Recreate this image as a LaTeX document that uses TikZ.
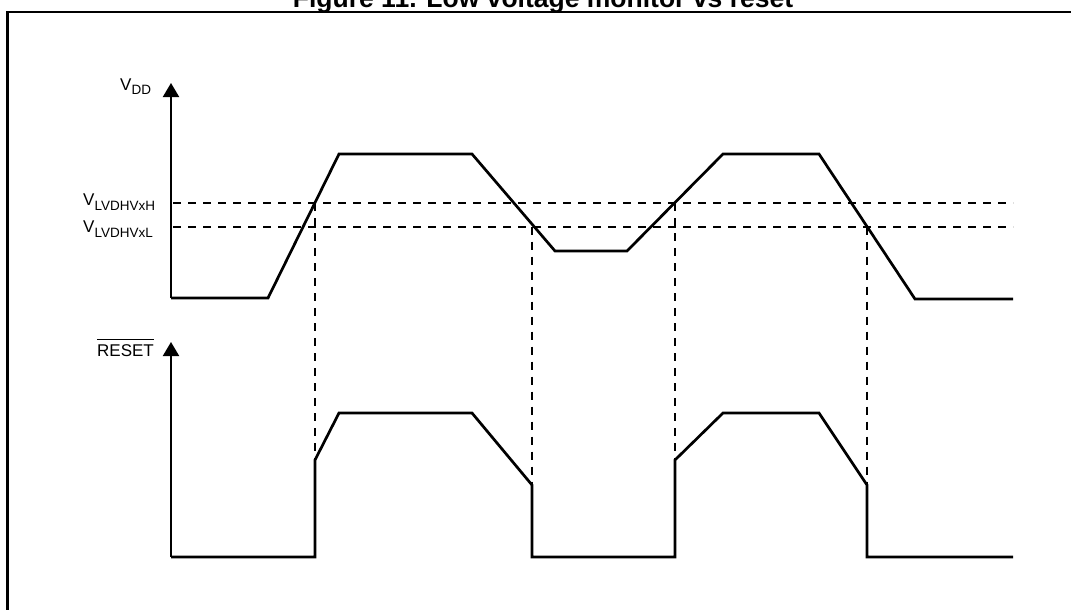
\documentclass[tikz,border=0pt]{standalone}
\usepackage{fontspec}
\setmainfont{Liberation Sans}
\usetikzlibrary{arrows.meta}
\newcommand\lbl{\fontsize{17}{20}\selectfont}
\newcommand\lsub[1]{\raisebox{-5pt}{\fontsize{13.5}{14}\selectfont #1}}
\newcommand\ovl[1]{\leavevmode\vbox{\hrule height 1pt\kern 4.5pt\hbox{#1}}}
\tikzset{
  wave/.style={line width=2.7pt,line join=miter},
  axis/.style={-{Triangle[length=14pt,width=16pt]},line width=2pt},
  thr/.style={line width=1.8pt,dash pattern=on 8pt off 7pt},
  frame/.style={line width=2.2pt}
}

\begin{document}
\begin{tikzpicture}[x=1pt,y=-1pt,every node/.style={inner sep=0pt,font=\lbl}]
  \useasboundingbox (0,0) rectangle (1071,610);
  % figure frame and title (cut by the page edge)
  \draw[frame] (7.5,640) -- (7.5,12) -- (1090,12);
  \node[anchor=base,font=\fontsize{26.5}{30}\selectfont\bfseries] (title) at (543,7.5)
        {Figure 11. Low voltage monitor vs reset};
  % axes
  \coordinate (o1) at (171,298);
  \coordinate (o2) at (171,557);
  \draw[axis] (o1) -- (171,83);
  \draw[axis] (o2) -- (171,342);
  \node[anchor=base west] (vdd) at (120,90) {V\lsub{DD}};
  \node[anchor=base west] (rst) at (97,356) {\ovl{RESET}};
  % threshold levels
  \node[anchor=base west] (vh) at (83,205) {V\lsub{LVDHVxH}};
  \node[anchor=base west] (vl) at (83,232.5) {V\lsub{LVDHVxL}};
  \draw[thr] (173,203.3) -- (1013,203.3);
  \draw[thr] (173,226.7) -- (1013,226.7);
  % supply voltage
  \draw[wave] (o1) -- (268,298) -- (339,154) -- (472,154) -- (555,251) -- (627,251)
              -- (723,154) -- (819,154) -- (915,299) -- (1013,299);
  % reset output
  \draw[wave] (o2) -- (315,557) -- (315,460) -- (339,413) -- (472,413) -- (532,485)
              -- (532,557) -- (675,557) -- (675,460) -- (723,413) -- (819,413)
              -- (867,485) -- (867,557) -- (1013,557);
  % crossings down to the reset edges
  \coordinate (c1) at (315,203.3);  \coordinate (e1) at (315,460);
  \coordinate (c2) at (532,226.7);  \coordinate (e2) at (532,485);
  \coordinate (c3) at (675,203.3);  \coordinate (e3) at (675,460);
  \coordinate (c4) at (867,226.7);  \coordinate (e4) at (867,485);
  \foreach \i in {1,...,4}
    \draw[thr] (c\i) -- (e\i);
\end{tikzpicture}
\end{document}
